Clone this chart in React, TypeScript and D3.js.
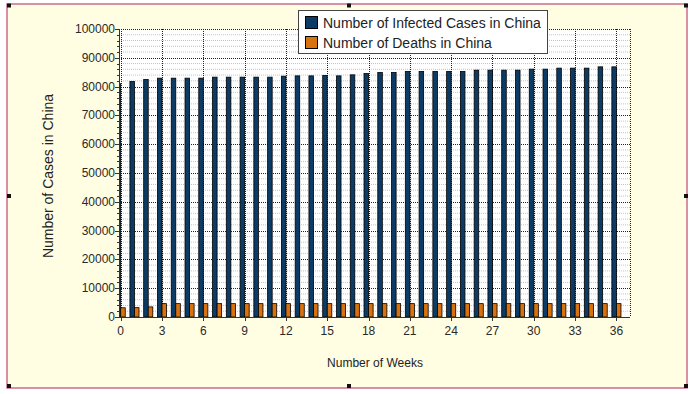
import React from "react";
import * as d3 from "d3";

const weeks = [0,1,2,3,4,5,6,7,8,9,10,11,12,13,14,15,16,17,18,19,20,21,22,23,24,25,26,27,28,29,30,31,32,33,34,35,36];
const infected = [81000,81780,82470,82930,82930,82930,82930,83280,83280,83280,83280,83280,83620,83730,83730,83870,83730,84080,84560,84910,84910,85260,85260,85260,85260,85260,85710,85710,85710,85710,86060,86060,86410,86410,86410,86860,86860];
const deaths = [3200,3250,3500,4640,4640,4640,4640,4640,4640,4640,4640,4640,4640,4640,4640,4640,4640,4640,4640,4640,4640,4640,4640,4640,4640,4640,4640,4640,4640,4640,4640,4640,4640,4640,4640,4640,4640];
const xTicks = [0,3,6,9,12,15,18,21,24,27,30,33,36];
const yTicks = [0,10000,20000,30000,40000,50000,60000,70000,80000,90000,100000];
const yMinor = d3.range(0, 100001, 2000);
const seriesNames = ["Number of Infected Cases in China", "Number of Deaths in China"];
const seriesColors = ["#0c3c66", "#d8720e"];

const FONT = "'Liberation Sans', Arial, sans-serif";

export default function App() {
  const left = 119, right = 630, top = 29, bottom = 317;
  const x = d3.scaleLinear().domain([0, 37]).range([120.7, 120.7 + 37 * 13.77]);
  const y = d3.scaleLinear().domain([0, 100000]).range([bottom, top]);
  const bw = x(0.33) - x(0);
  const handles: [number, number][] = [
    [9, 5.5], [349, 5.5], [686, 5.5], [9, 196], [686, 196], [9, 386], [349, 386], [686, 386],
  ];
  return (
    <svg width={700} height={394} style={{ position: "absolute", left: 0, top: 0 }} fontFamily={FONT}>
      <rect x={0} y={0} width={700} height={394} fill="#ffffff" />
      <rect x={7} y={4} width={680} height={384} fill="#fffde2" stroke="#cc6b8c" strokeWidth={1.5} />
      <defs>
        <clipPath id="plotclip">
          <rect x={left} y={top} width={right - left} height={bottom - top} />
        </clipPath>
      </defs>
      <rect x={left} y={top} width={right - left} height={bottom - top} fill="#ffffff" />
      {yMinor.filter((v) => v % 10000 !== 0).map((v) => (
        <line key={"m" + v} x1={left} x2={right} y1={y(v)} y2={y(v)} stroke="#c4c4c4" strokeDasharray="1,1" strokeWidth={1} />
      ))}
      {yTicks.map((v) => (
        <line key={"g" + v} x1={left} x2={right} y1={Math.round(y(v)) + 0.5} y2={Math.round(y(v)) + 0.5} stroke="#222" strokeDasharray="1,1" strokeWidth={1} />
      ))}
      {xTicks.map((v) => (
        <line key={"gx" + v} x1={Math.round(x(v)) + 0.5} x2={Math.round(x(v)) + 0.5} y1={top} y2={bottom} stroke="#222" strokeDasharray="1,1" strokeWidth={1} />
      ))}
      <line x1={right + 0.5} x2={right + 0.5} y1={top} y2={bottom} stroke="#222" strokeDasharray="1,1" />
      <g clipPath="url(#plotclip)">
        {weeks.map((w, i) => (
          <g key={"b" + w}>
            <rect x={x(w) - bw} y={y(infected[i])} width={bw} height={bottom - y(infected[i])} fill={seriesColors[0]} stroke="#000" strokeWidth={0.8} />
            <rect x={x(w)} y={y(deaths[i])} width={bw} height={bottom - y(deaths[i])} fill={seriesColors[1]} stroke="#000" strokeWidth={0.8} />
          </g>
        ))}
      </g>
      {/* axes */}
      <line x1={left + 0.5} x2={left + 0.5} y1={top} y2={bottom + 1} stroke="#333" strokeWidth={1} />
      <line x1={left} x2={right} y1={bottom + 0.5} y2={bottom + 0.5} stroke="#333" strokeWidth={1} />
      {yMinor.map((v) => (
        <line key={"yt" + v} x1={left - (v % 10000 === 0 ? 4 : 2)} x2={left} y1={Math.round(y(v)) + 0.5} y2={Math.round(y(v)) + 0.5} stroke="#333" />
      ))}
      {yTicks.map((v) => (
        <text key={"yl" + v} x={115} y={y(v) + 4} textAnchor="end" fontSize={12} fill="#2a2a2a">{v}</text>
      ))}
      {xTicks.map((v) => (
        <g key={"xt" + v}>
          <line x1={Math.round(x(v)) + 0.5} x2={Math.round(x(v)) + 0.5} y1={bottom} y2={bottom + 4} stroke="#333" />
          <text x={x(v)} y={335} textAnchor="middle" fontSize={12} fill="#2a2a2a">{v}</text>
        </g>
      ))}
      <text x={375} y={367} textAnchor="middle" fontSize={12} fill="#222">Number of Weeks</text>
      <text transform={`translate(53,${(top + bottom) / 2 + 3}) rotate(-90)`} textAnchor="middle" fontSize={14} fill="#222">Number of Cases in China</text>
      {/* legend */}
      <rect x={298.5} y={10.5} width={249} height={43} fill="#ffffff" stroke="#444" strokeWidth={1} />
      {seriesNames.map((n, i) => (
        <g key={n}>
          <rect x={305.5} y={16.5 + i * 20} width={12} height={12} fill={seriesColors[i]} stroke="#000" strokeWidth={1} />
          <text x={323} y={28 + i * 20} fontSize={14} fill="#222">{n}</text>
        </g>
      ))}
      {handles.map(([hx, hy], i) => (
        <rect key={"h" + i} x={hx - 2} y={hy - 2} width={4} height={4} fill="#111" />
      ))}
    </svg>
  );
}
